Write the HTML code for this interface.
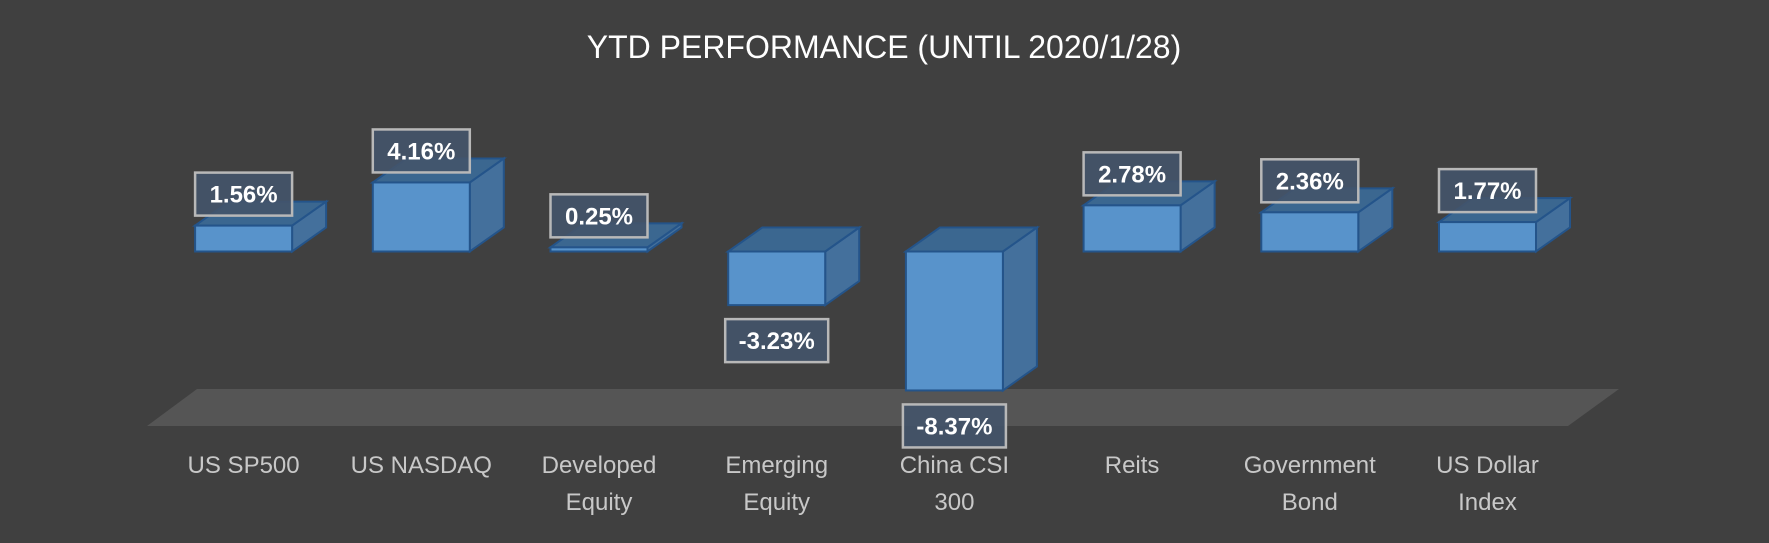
<!DOCTYPE html>
<html><head><meta charset="utf-8">
<style>
html,body{margin:0;padding:0;background:#404040;}
svg{display:block;font-family:"Liberation Sans",sans-serif;}
</style></head>
<body>
<svg id="chart" width="1769" height="543" viewBox="0 0 1769 543">
<rect width="1769" height="543" fill="#404040"/>
<text x="884" y="58" text-anchor="middle" font-size="32" fill="#ffffff">YTD PERFORMANCE (UNTIL 2020/1/28)</text>
<polygon points="197,389 1619,389 1568,426 147,426" fill="#555555"/>
<g id="bars"></g>
<g id="labels"></g>
</svg>
<script>
const categories = [["US SP500"],["US NASDAQ"],["Developed","Equity"],["Emerging","Equity"],["China CSI","300"],["Reits"],["Government","Bond"],["US Dollar","Index"]];
const values = [1.56, 4.16, 0.25, -3.23, -8.37, 2.78, 2.36, 1.77];
const valueLabels = ["1.56%","4.16%","0.25%","-3.23%","-8.37%","2.78%","2.36%","1.77%"];

const NS = "http://www.w3.org/2000/svg";
const x0 = 243.6, step = 177.7, bw = 97, dx = 34, dy = 24, zeroY = 251.5, pxPer = 16.6;
function xCenter(i){ return x0 + i*step; }
function yVal(v){ return zeroY - v*pxPer; }
const gb = document.getElementById('bars');
const gl = document.getElementById('labels');
function mk(tag, attrs, parent){
  const e = document.createElementNS(NS, tag);
  for (const k in attrs) e.setAttribute(k, attrs[k]);
  parent.appendChild(e);
  return e;
}
values.forEach((v,i)=>{
  const cx = xCenter(i), l = cx - bw/2, r = cx + bw/2;
  const top = Math.min(yVal(v), zeroY), bot = Math.max(yVal(v), zeroY);
  const g = mk('g', {}, gb);
  
  
  mk('polygon', {points:`${r},${top} ${r+dx},${top-dy} ${r+dx},${bot-dy} ${r},${bot}`, fill:'#44709c', stroke:'#24548a', 'stroke-width':2}, g);
  mk('polygon', {points:`${l},${top} ${l+dx},${top-dy} ${r+dx},${top-dy} ${r},${top}`, fill:'#3b6790', stroke:'#24548a', 'stroke-width':2}, g);
  mk('rect', {x:l, y:top, width:bw, height:Math.max(bot-top,1.5), fill:'#5893cb', stroke:'#24548a', 'stroke-width':2}, g);

  // value label
  const bh = 43, bwl = (valueLabels[i].length > 5 ? 103 : 97);
  const by = v >= 0 ? top - 10 - bh : bot + 14;
  const bx = cx - bwl/2;
  const lg = mk('g', {}, gl);
  
  
  mk('rect', {x:bx, y:by, width:bwl, height:bh, fill:'#44546a', 'fill-opacity':0.9, stroke:'#b8b8b8', 'stroke-width':2.5}, lg);
  const t = mk('text', {x:cx, y:by+bh/2+8.5, 'text-anchor':'middle', 'font-size':24, 'font-weight':'bold', fill:'#ffffff'}, lg);
  t.textContent = valueLabels[i];

  // category label
  const ct = mk('text', {x:cx, 'text-anchor':'middle', 'font-size':24, fill:'#c8c8c8'}, gl);
  
  
  categories[i].forEach((line,j)=>{
    const ts = mk('tspan', {x:cx, y:473 + j*37}, ct);
    ts.textContent = line;
  });
});
</script>
</body></html>
